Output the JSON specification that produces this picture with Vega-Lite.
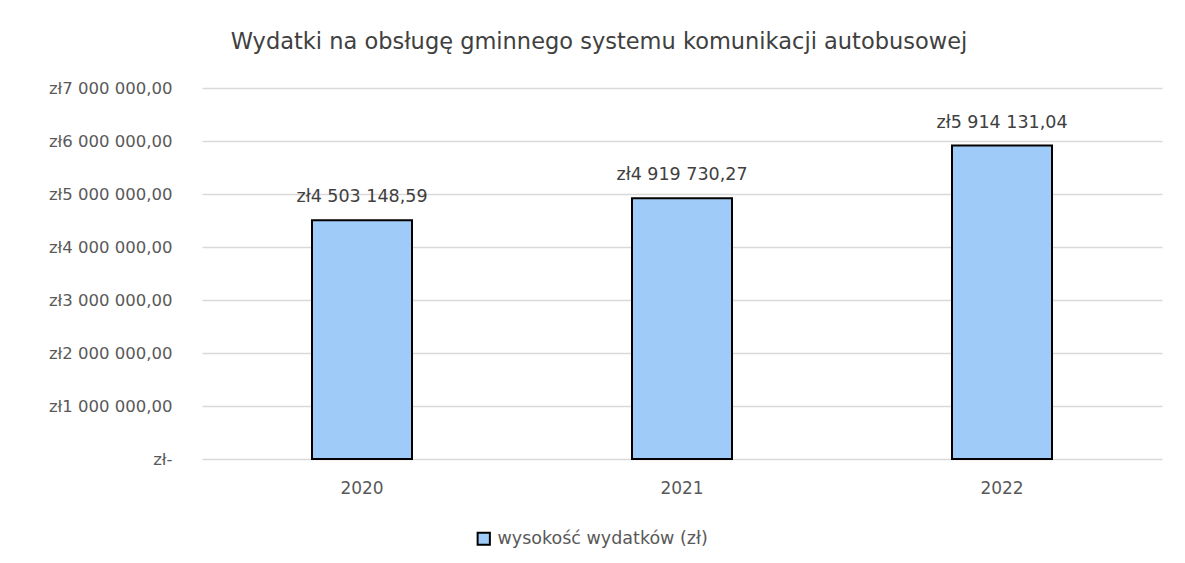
{
  "$schema": "https://vega.github.io/schema/vega-lite/v6.json",
  "autosize": "none",
  "width": 960,
  "height": 371,
  "padding": {"left": 202, "top": 88, "right": 23, "bottom": 104},
  "background": "white",
  "config": {
    "locale": {
      "number": {"decimal": ",", "thousands": " ", "grouping": [3], "currency": ["zł", ""]}
    },
    "font": "DejaVu Sans",
    "view": {"stroke": null}
  },
  "title": {
    "text": "Wydatki na obsługę gminnego systemu komunikacji autobusowej",
    "fontSize": 22.5,
    "fontWeight": "normal",
    "color": "#404040",
    "anchor": "middle",
    "dx": -83,
    "offset": 27
  },
  "data": {
    "values": [
      {"rok": "2020", "wartosc": 4503148.59, "seria": "wysokość wydatków (zł)"},
      {"rok": "2021", "wartosc": 4919730.27, "seria": "wysokość wydatków (zł)"},
      {"rok": "2022", "wartosc": 5914131.04, "seria": "wysokość wydatków (zł)"}
    ]
  },
  "encoding": {
    "x": {
      "field": "rok",
      "type": "nominal",
      "scale": {"paddingInner": 0.6875, "paddingOuter": 0.34375},
      "axis": {
        "title": null,
        "labelAngle": 0,
        "labelFontSize": 17,
        "labelColor": "#595959",
        "labelPadding": 21,
        "ticks": false,
        "domain": false
      }
    },
    "y": {
      "field": "wartosc",
      "type": "quantitative",
      "scale": {"domain": [0, 7000000]},
      "axis": {
        "title": null,
        "values": [0, 1000000, 2000000, 3000000, 4000000, 5000000, 6000000, 7000000],
        "labelExpr": "datum.value == 0 ? 'zł-' : format(datum.value, '$,.2f')",
        "labelFontSize": 16.5,
        "labelColor": "#595959",
        "labelPadding": 30,
        "labelLimit": 0,
        "ticks": false,
        "domain": false,
        "grid": true,
        "gridColor": "#D9D9D9",
        "gridWidth": 1.5
      }
    }
  },
  "layer": [
    {
      "mark": {"type": "bar", "stroke": "#000000", "strokeWidth": 2},
      "encoding": {
        "color": {
          "field": "seria",
          "type": "nominal",
          "scale": {"range": ["#9ECBF7"]},
          "legend": {
            "title": null,
            "orient": "none",
            "legendX": 273,
            "legendY": 442,
            "symbolType": "square",
            "symbolStrokeColor": "#000000",
            "symbolStrokeWidth": 2,
            "symbolSize": 150,
            "labelFontSize": 17.5,
            "labelColor": "#595959",
            "labelOffset": 5,
            "labelLimit": 0
          }
        }
      }
    },
    {
      "mark": {"type": "text", "dy": -23, "fontSize": 17.5, "color": "#404040"},
      "encoding": {
        "text": {"field": "wartosc", "type": "quantitative", "format": "$,.2f"}
      }
    }
  ]
}
